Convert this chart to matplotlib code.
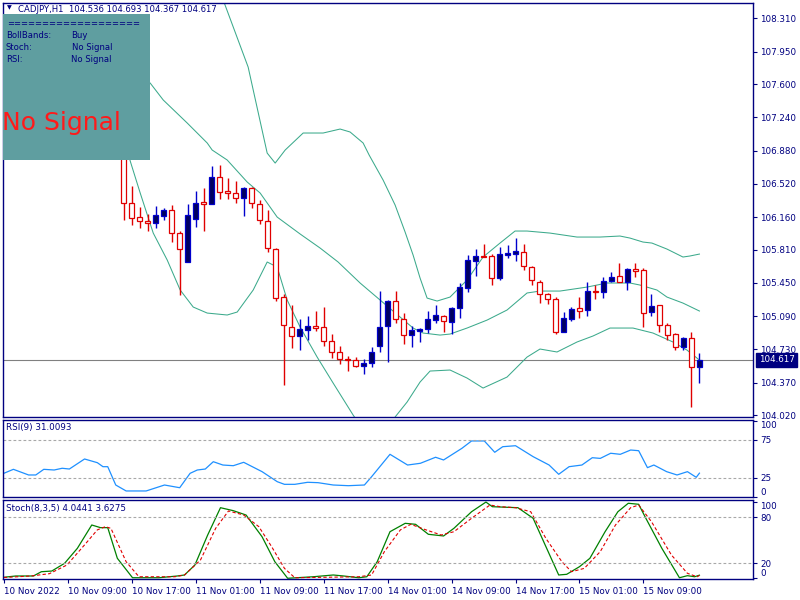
import matplotlib
matplotlib.use("Agg")
import matplotlib.pyplot as plt
from matplotlib.patches import Rectangle

plt.rcParams['font.family'] = ['DejaVu Sans']

NAVY = "#000080"

# ---------------------------
# candles (bar 15 .. 87), bars 0-14 hidden behind the info box
# ---------------------------
first_bar = 15
opens = [106.900, 106.310, 106.161, 106.118, 106.093, 106.175, 106.237, 105.985, 105.678, 106.136,
         106.324, 106.302, 106.591, 106.443, 106.424, 106.364, 106.472, 106.299, 106.121, 105.812,
         105.299, 104.975, 104.878, 104.943, 104.979, 104.969, 104.824, 104.705, 104.626, 104.615,
         104.553, 104.579, 104.770, 104.986, 105.253, 105.058, 104.885, 104.932, 104.947, 105.051,
         105.094, 105.029, 105.174, 105.397, 105.686, 105.743, 105.740, 105.505, 105.754, 105.764,
         105.786, 105.624, 105.462, 105.325, 105.271, 104.921, 105.062, 105.174, 105.152, 105.361,
         105.347, 105.475, 105.520, 105.458, 105.596, 105.585, 105.131, 105.206, 104.990, 104.893,
         104.759, 104.850, 104.536]
highs = [106.950, 106.497, 106.266, 106.191, 106.280, 106.262, 106.291, 106.010, 106.299, 106.443,
         106.472, 106.713, 106.724, 106.580, 106.554, 106.489, 106.489, 106.345, 106.237, 105.823,
         105.325, 105.210, 105.058, 105.091, 105.148, 105.185, 104.893, 104.770, 104.658, 104.651,
         104.626, 104.756, 105.361, 105.264, 105.361, 105.120, 104.986, 104.961, 105.148, 105.206,
         105.102, 105.191, 105.451, 105.750, 105.815, 105.869, 105.764, 105.840, 105.859, 105.931,
         105.869, 105.631, 105.477, 105.343, 105.299, 105.131, 105.185, 105.293, 105.455, 105.426,
         105.513, 105.570, 105.661, 105.607, 105.661, 105.607, 105.325, 105.206, 105.012, 104.904,
         104.867, 104.914, 104.693]
lows = [106.129, 106.075, 106.039, 106.010, 106.039, 106.126, 105.894, 105.318, 105.678, 106.056,
        106.010, 106.302, 106.356, 106.353, 106.316, 106.172, 106.255, 106.082, 105.786, 105.256,
        104.345, 104.741, 104.723, 104.831, 104.932, 104.770, 104.640, 104.568, 104.496, 104.539,
        104.464, 104.539, 104.705, 104.590, 105.012, 104.788, 104.756, 104.813, 104.904, 105.018,
        104.921, 104.893, 105.066, 105.354, 105.527, 105.725, 105.426, 105.483, 105.715, 105.686,
        105.588, 105.426, 105.235, 105.221, 104.896, 104.921, 105.040, 105.072, 105.091, 105.271,
        105.289, 105.458, 105.458, 105.372, 105.509, 104.975, 105.094, 104.921, 104.831, 104.723,
        104.723, 104.110, 104.367]
closes = [106.310, 106.147, 106.118, 106.093, 106.180, 106.237, 105.985, 105.812, 106.180, 106.310,
          106.302, 106.591, 106.435, 106.424, 106.364, 106.472, 106.310, 106.126, 105.823, 105.289,
          104.993, 104.878, 104.950, 104.979, 104.961, 104.824, 104.705, 104.623, 104.612, 104.553,
          104.583, 104.705, 104.969, 105.253, 105.058, 104.882, 104.939, 104.953, 105.055, 105.102,
          105.040, 105.174, 105.401, 105.693, 105.740, 105.729, 105.498, 105.761, 105.772, 105.794,
          105.628, 105.477, 105.325, 105.271, 104.921, 105.072, 105.163, 105.148, 105.361, 105.347,
          105.475, 105.516, 105.462, 105.596, 105.581, 105.120, 105.196, 104.990, 104.885, 104.759,
          104.850, 104.543, 104.617]

# ---------------------------
# Bollinger bands (bar position, price)
# ---------------------------
upper_x = [26.4, 27.44, 30.56, 32.94, 33.94, 35.19, 37.44, 39.94, 42.06, 43.31, 44.94, 45.69, 47.44,
           48.94, 50.19, 51.19, 52.06, 52.94, 54.19, 55.81, 57.94, 59.94, 62.06, 63.94, 65.44, 68.31,
           71.69, 74.56, 77.06, 78.31, 79.94, 81.06, 82.94, 84.94, 85.81, 87.0]
upper_y = [108.72, 108.508, 107.783, 106.853, 106.745, 106.886, 107.070, 107.070, 107.113, 107.081,
           106.962, 106.832, 106.561, 106.291, 105.999, 105.750, 105.502, 105.285, 105.253, 105.296,
           105.480, 105.729, 105.880, 106.010, 106.010, 105.988, 105.945, 105.945, 105.956, 105.934,
           105.891, 105.880, 105.815, 105.729, 105.740, 105.761]
mid_x = [14.56, 18.31, 19.94, 22.94, 25.44, 26.06, 27.94, 30.44, 32.06, 34.19, 37.06, 39.56, 41.81,
         44.56, 47.06, 49.56, 51.19, 52.44, 54.56, 55.81, 57.94, 60.44, 62.94, 65.44, 67.06, 69.56,
         72.94, 75.44, 78.31, 79.56, 81.69, 82.94, 84.94, 87.0]
mid_y = [107.859, 107.610, 107.427, 107.178, 106.962, 106.886, 106.778, 106.540, 106.421, 106.161,
         105.978, 105.826, 105.675, 105.448, 105.264, 105.080, 104.961, 104.907, 104.885, 104.896,
         104.961, 105.047, 105.156, 105.340, 105.361, 105.361, 105.404, 105.448, 105.448, 105.426,
         105.372, 105.296, 105.231, 105.145]
lower_x = [15.19, 15.81, 17.06, 18.69, 20.44, 22.06, 23.69, 25.44, 27.94, 29.19, 31.19, 32.94, 34.19,
           35.44, 37.06, 39.19, 41.19, 43.69, 45.81, 47.69, 48.94, 50.44, 52.06, 53.31, 55.81, 57.94,
           59.94, 62.94, 65.44, 67.06, 69.19, 71.69, 73.69, 75.81, 78.69, 81.19, 83.69, 85.44, 87.0]
lower_y = [106.994, 106.767, 106.421, 105.988, 105.696, 105.372, 105.188, 105.123, 105.102, 105.134,
           105.372, 105.675, 105.621, 105.264, 104.972, 104.647, 104.366, 104.020, 103.750, 103.804,
           103.999, 104.161, 104.377, 104.496, 104.507, 104.420, 104.312, 104.431, 104.647, 104.734,
           104.702, 104.810, 104.875, 104.961, 104.961, 104.907, 104.810, 104.723, 104.615]

# ---------------------------
# RSI(9)
# ---------------------------
rsi_x = [0, 1.2, 3.1, 4.0, 5.0, 6.3, 7.3, 8.2, 10.1, 11.7, 12.4, 13.0, 14.0, 15.3, 17.8, 20.1, 22.0,
         23.3, 24.2, 25.2, 26.2, 27.4, 28.7, 30.0, 32.3, 34.2, 35.1, 36.4, 38.0, 39.3, 41.2, 43.1,
         45.1, 46.0, 48.3, 50.5, 52.1, 54.0, 55.0, 57.3, 58.5, 60.1, 61.4, 62.4, 64.0, 66.2, 68.2,
         69.4, 70.7, 72.3, 73.6, 74.6, 75.9, 77.1, 78.4, 79.4, 80.5, 81.3, 82.9, 84.2, 85.5, 86.6, 87]
rsi_v = [30.8, 36.1, 28.6, 28.6, 36.1, 35.2, 37.5, 36.5, 49.8, 44.9, 39.6, 39.6, 15.3, 7.4, 7.4, 15.3,
         11.7, 30.8, 35.2, 36.5, 46.2, 41.8, 40.9, 45.4, 33.0, 19.7, 16.2, 16.2, 18.9, 18.4, 15.3, 14.4,
         15.3, 26.3, 56.0, 41.8, 44.1, 52.1, 48.5, 64.0, 73.7, 73.7, 58.7, 66.1, 67.4, 52.9, 41.8,
         29.5, 39.6, 41.8, 51.5, 50.6, 57.4, 56.0, 61.7, 60.8, 38.3, 41.8, 33.0, 28.6, 33.0, 25.5, 31.0]
rsi_levels = [25, 75]

# ---------------------------
# Stochastic(8,3,5)
# ---------------------------
k_x = [0, 1.5, 3.7, 4.7, 6.0, 7.6, 9.2, 11.0, 12.1, 13.0, 14.2, 16.1, 19.4, 21.7, 22.6, 23.9, 25.5,
       27.1, 28.7, 30.3, 32.3, 33.9, 35.5, 38.7, 41.2, 42.5, 44.4, 45.4, 46.7, 48.3, 50.2, 51.5, 53.1,
       55.0, 56.3, 58.5, 60.3, 61.1, 64.3, 66.2, 69.4, 70.4, 72.0, 73.3, 75.2, 76.8, 78.1, 79.4, 80.3,
       82.3, 84.5, 85.5, 86.4, 87]
k_v = [1.3, 3.0, 3.0, 8.6, 9.5, 19.6, 39.3, 69.9, 66.4, 66.4, 26.2, 0.7, 0.7, 3.0, 4.3, 17.4, 56.8,
       92.6, 88.7, 83.0, 54.5, 21.7, 0.0, 2.0, 4.3, 3.0, 0.7, 2.0, 21.7, 61.1, 72.1, 70.8, 57.7, 55.5,
       65.6, 87.3, 100.0, 93.9, 92.6, 78.7, 4.3, 5.2, 15.2, 26.2, 61.1, 87.3, 98.4, 97.1, 78.7, 39.3,
       0.7, 3.4, 2.0, 4.0441]
d_x = [0, 3.4, 5.7, 7.9, 10.1, 11.7, 12.7, 13.4, 15.3, 16.9, 21.4, 22.6, 24.6, 26.5, 28.1, 30.0, 31.9,
       33.5, 35.1, 36.4, 44.4, 46.0, 47.6, 49.6, 50.9, 52.8, 54.7, 56.3, 58.5, 60.8, 62.1, 64.0, 65.9,
       67.8, 69.8, 71.0, 72.6, 74.6, 76.5, 78.4, 79.4, 81.0, 83.5, 85.5, 86.7, 87]
d_v = [1.0, 3.0, 6.0, 17.4, 43.8, 63.5, 67.7, 65.5, 21.7, 2.0, 2.0, 4.3, 24.0, 65.6, 88.3, 83.0, 67.7,
       41.4, 13.0, 0.7, 2.0, 4.3, 35.0, 63.5, 70.8, 63.5, 56.8, 61.1, 78.7, 96.1, 93.9, 92.6, 87.3,
       52.3, 21.7, 8.6, 13.0, 35.0, 69.9, 92.6, 96.1, 74.3, 30.5, 6.5, 2.0, 3.6275]
stoch_levels = [20, 80]

# ---------------------------
# axes / labels
# ---------------------------
price_ticks = [108.310, 107.950, 107.600, 107.240, 106.880, 106.520, 106.160,
               105.810, 105.450, 105.090, 104.730, 104.370, 104.020]
time_pos = [0, 8, 16, 24, 32, 40, 48, 56, 64, 72, 80]
time_labels = ["10 Nov 2022", "10 Nov 09:00", "10 Nov 17:00", "11 Nov 01:00", "11 Nov 09:00",
               "11 Nov 17:00", "14 Nov 01:00", "14 Nov 09:00", "14 Nov 17:00", "15 Nov 01:00",
               "15 Nov 09:00"]

W, H = 800, 600
fig = plt.figure(figsize=(8, 6), dpi=100)

def box(left, top, right, bottom):
    return [left / W, 1 - bottom / H, (right - left) / W, (bottom - top) / H]

ax = fig.add_axes(box(3, 3, 753, 417))
ax_rsi = fig.add_axes(box(3, 420, 753, 497), sharex=ax)
ax_st = fig.add_axes(box(3, 500, 753, 578.5), sharex=ax)

for a in (ax, ax_rsi, ax_st):
    for s in a.spines.values():
        s.set_color(NAVY)
        s.set_linewidth(1.0)
    a.yaxis.tick_right()
    a.tick_params(axis="y", colors=NAVY, labelcolor=NAVY, labelsize=6.3,
                  length=3, width=0.8, pad=2)
    a.tick_params(axis="x", bottom=False, labelbottom=False)

ax.set_xlim(-0.1, 93.7)

# bands
band_col = "#3CAA8C"
ax.plot(upper_x, upper_y, color=band_col, lw=0.75, zorder=2)
ax.plot(mid_x, mid_y, color=band_col, lw=0.75, zorder=2)
ax.plot(lower_x, lower_y, color=band_col, lw=0.75, zorder=2)

# candles
bars = list(range(first_bar, first_bar + len(closes)))
for i, o, h, l, c in zip(bars, opens, highs, lows, closes):
    if c >= o:
        wick, face, edge = "#0000CC", "#000060", "#0000CC"
    else:
        wick, face, edge = "#E00000", "white", "#E00000"
    ax.vlines(i, l, h, color=wick, lw=1.0, zorder=3)
    ax.bar(i, abs(c - o), bottom=min(o, c), width=0.6, facecolor=face,
           edgecolor=edge, linewidth=0.9, zorder=4)

ax.axhline(closes[-1], color="#808080", lw=0.8, zorder=1)
ax.set_ylim(103.999, 108.476)
ax.set_yticks(price_ticks)
ax.set_yticklabels([f"{t:.3f}" for t in price_ticks])
ax.annotate(f"{closes[-1]:.3f}", xy=(1.0, closes[-1]), xycoords=("axes fraction", "data"),
            xytext=(4, 0), textcoords="offset points", va="center", ha="left",
            color="white", fontsize=6.3,
            bbox=dict(boxstyle="square,pad=0.25", fc=NAVY, ec=NAVY))

# RSI
ax_rsi.plot(rsi_x, rsi_v, color="#1E90FF", lw=0.9)
for lv in rsi_levels:
    ax_rsi.axhline(lv, color="#A8A8A8", lw=0.8, ls=(0, (2.5, 2)))
ax_rsi.set_ylim(-0.6, 101.5)
ax_rsi.set_yticks([0, 25, 75, 100])
lbl = ax_rsi.get_yticklabels()
lbl[0].set_va("bottom")
lbl[-1].set_va("top")
ax_rsi.text(0.004, 0.9, "RSI(9) 31.0093", transform=ax_rsi.transAxes, color=NAVY,
            fontsize=6.3, va="center", ha="left")

# Stochastic
ax_st.plot(k_x, k_v, color="#008000", lw=0.9)
ax_st.plot(d_x, d_v, color="#E00000", lw=0.8, ls=(0, (3, 2)))
for lv in stoch_levels:
    ax_st.axhline(lv, color="#A8A8A8", lw=0.8, ls=(0, (2.5, 2)))
ax_st.set_ylim(-0.3, 102.7)
ax_st.set_yticks([0, 20, 80, 100])
lbl = ax_st.get_yticklabels()
lbl[0].set_va("bottom")
lbl[-1].set_va("top")
ax_st.text(0.004, 0.89, "Stoch(8,3,5) 4.0441 3.6275", transform=ax_st.transAxes, color=NAVY,
           fontsize=6.3, va="center", ha="left")

ax_st.tick_params(axis="x", bottom=True, labelbottom=True, colors=NAVY, labelcolor=NAVY,
                  labelsize=6.3, length=3, width=0.8, pad=3)
ax_st.set_xticks(time_pos)
ax_st.set_xticklabels(time_labels)
for t in ax_st.get_xticklabels():
    t.set_ha("left")

# info box
fig.add_artist(Rectangle((3 / W, 1 - 160 / H), 147 / W, 146 / H, transform=fig.transFigure,
                         facecolor="#5F9EA0", edgecolor="none", zorder=5))

def ftext(x, y, s, **kw):
    fig.text(x / W, 1 - y / H, s, va="center", ha="left", zorder=6, **kw)

ftext(7, 8, "\u25bc", color=NAVY, fontsize=4.5)
ftext(18, 9, "CADJPY,H1  104.536 104.693 104.367 104.617", color=NAVY, fontsize=6.1)
ftext(7, 24, "===================", color=NAVY, fontsize=6.0)
ftext(6, 36, "BollBands:", color=NAVY, fontsize=6.1)
ftext(71, 36, "Buy", color=NAVY, fontsize=6.1)
ftext(6, 47, "Stoch:", color=NAVY, fontsize=6.1)
ftext(72, 47, "No Signal", color=NAVY, fontsize=6.1)
ftext(6, 59, "RSI:", color=NAVY, fontsize=6.1)
ftext(71, 59, "No Signal", color=NAVY, fontsize=6.1)
ftext(2, 123, "No Signal", color="#FF1A1A", fontsize=18)

fig.savefig("out.png", dpi=100)
